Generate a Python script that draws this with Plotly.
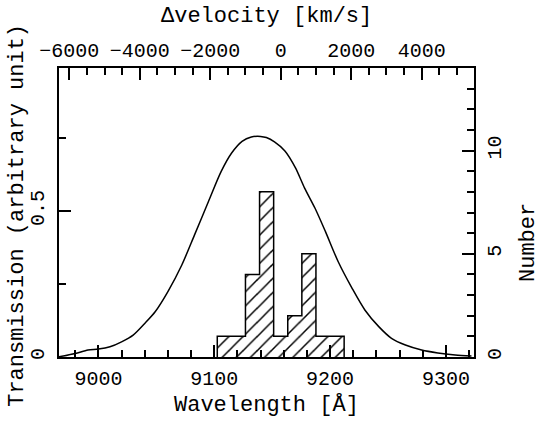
import plotly.graph_objects as go

# Filter transmission curve
wavelength = [8965, 8980, 8991, 9000, 9010, 9020, 9030, 9040, 9049, 9060, 9072, 9083,
              9095, 9106, 9115, 9124, 9132, 9140, 9145, 9152, 9161, 9170, 9178, 9187,
              9196, 9207, 9219, 9230, 9242, 9253, 9265, 9279, 9293, 9308, 9322]
transmission = [0.0, 0.012, 0.024, 0.027, 0.035, 0.052, 0.075, 0.115, 0.155, 0.224, 0.315, 0.418,
                0.532, 0.635, 0.698, 0.738, 0.753, 0.755, 0.751, 0.736, 0.705, 0.648, 0.578, 0.509,
                0.429, 0.326, 0.235, 0.161, 0.104, 0.064, 0.041, 0.024, 0.014, 0.007, 0.003]

# Velocity histogram (400 km/s bins)
vel_edges = [-1800, -1400, -1000, -600, -200, 200, 600, 1000, 1400, 1800]
counts = [1, 1, 4, 8, 1, 2, 5, 1, 1]

FONT = "Liberation Mono"
TICKFONT = dict(family=FONT, size=20, color="black")

bin_centers = [(vel_edges[i] + vel_edges[i + 1]) / 2 for i in range(len(counts))]
bin_widths = [vel_edges[i + 1] - vel_edges[i] for i in range(len(counts))]
step_x = [vel_edges[0]] + vel_edges
step_y = [0] + counts + [0]

fig = go.Figure()
fig.add_trace(go.Scatter(x=wavelength, y=transmission, mode="lines",
                         line=dict(color="black", width=1.5, shape="spline", smoothing=0.8),
                         xaxis="x", yaxis="y", showlegend=False))
fig.add_trace(go.Bar(x=bin_centers, y=counts, width=bin_widths,
                     marker=dict(color="white", line=dict(width=0),
                                 pattern=dict(shape="/", fgcolor="black", bgcolor="white",
                                              size=10, solidity=0.15, fillmode="replace")),
                     xaxis="x2", yaxis="y2", showlegend=False))
fig.add_trace(go.Scatter(x=step_x, y=step_y, mode="lines",
                         line=dict(color="black", width=1.5, shape="hv"),
                         xaxis="x2", yaxis="y2", showlegend=False))

common = dict(showgrid=False, zeroline=False, showline=True, linecolor="black", linewidth=2,
              ticks="inside", ticklen=12, tickwidth=1.5, tickcolor="black", tickfont=TICKFONT,
              automargin=False)
MINOR = dict(ticks="inside", ticklen=7, tickwidth=1.5, tickcolor="black")

fig.update_layout(
    width=540, height=422,
    margin=dict(l=59, r=66, t=68, b=65),
    paper_bgcolor="white", plot_bgcolor="white",
    bargap=0,
    xaxis=dict(range=[8966, 9324.2], tick0=9000, dtick=100,
               minor=dict(dtick=20, **MINOR), ticklabelstandoff=2, **common),
    xaxis2=dict(range=[-6291, 5485], overlaying="x", side="top", anchor="y",
                tick0=0, dtick=2000,
                minor=dict(dtick=500, **MINOR), ticklabelstandoff=1, **common),
    yaxis=dict(range=[0, 0.989], tick0=0, dtick=0.5, tickangle=-90,
               minor=dict(dtick=0.25, **MINOR), ticklabelstandoff=5, **common),
    yaxis2=dict(range=[0, 14], overlaying="y", side="right", anchor="x",
                tick0=0, dtick=5, tickangle=-90,
                minor=dict(dtick=1, **MINOR), ticklabelstandoff=1, **common),
)

TITLEFONT = dict(family=FONT, size=22, color="black")
fig.add_annotation(text="Wavelength [Å]", xref="paper", yref="paper", x=0.5, y=-0.166,
                   showarrow=False, font=TITLEFONT, xanchor="center", yanchor="middle")
fig.add_annotation(text="Δvelocity [km/s]", xref="paper", yref="paper", x=0.5, y=1.178,
                   showarrow=False, font=TITLEFONT, xanchor="center", yanchor="middle")
fig.add_annotation(text="Transmission (arbitrary unit)", xref="paper", yref="paper",
                   x=-0.0988, y=0.492, textangle=-90,
                   showarrow=False, font=TITLEFONT, xanchor="center", yanchor="middle")
fig.add_annotation(text="Number", xref="paper", yref="paper",
                   x=(528 - 59) / 415, y=(357 - 243) / 289, textangle=-90,
                   showarrow=False, font=TITLEFONT, xanchor="center", yanchor="middle")

fig.write_html("out.html", config={"displayModeBar": False},
               post_script="document.body.style.margin='0';")
